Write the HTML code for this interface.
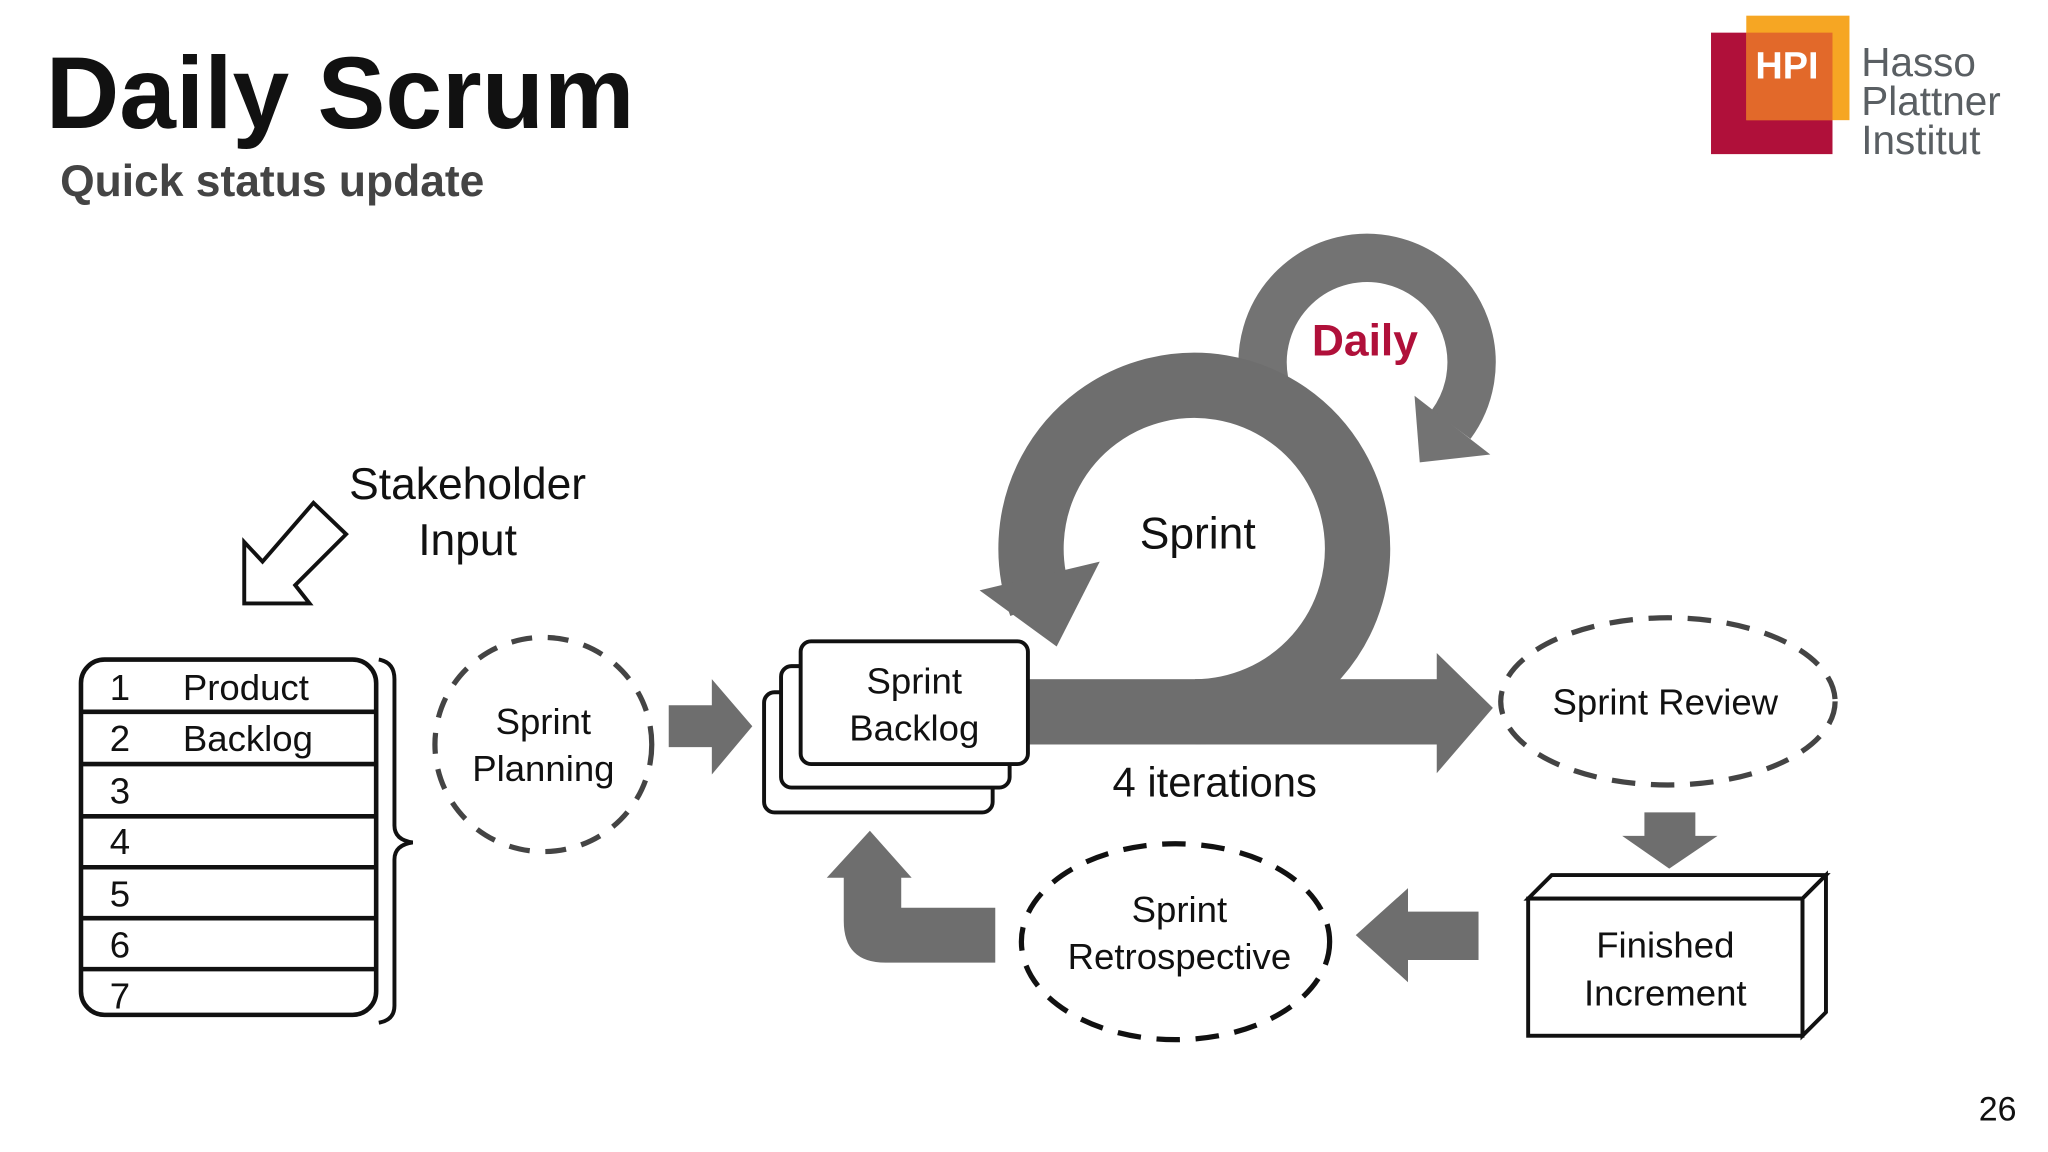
<!DOCTYPE html>
<html><head><meta charset="utf-8"><style>
html,body{margin:0;padding:0;background:#fff;}
svg{display:block;}
text{font-family:"Liberation Sans",sans-serif;}
</style></head><body>
<svg width="2048" height="1152" viewBox="0 0 1568 882" xmlns="http://www.w3.org/2000/svg">
<rect width="1568" height="882" fill="#fff"/>
<!-- Title -->
<text x="35" y="98" font-size="78" font-weight="bold" fill="#111">Daily Scrum</text>
<text x="46" y="150" font-size="34" font-weight="bold" fill="#444">Quick status update</text>
<!-- Logo -->
<rect x="1310" y="25" width="93" height="93" fill="#b0103a"/>
<rect x="1337" y="12" width="79" height="80" fill="#f6a623"/>
<rect x="1337" y="25" width="66" height="67" fill="#e2692a"/>
<text x="1344" y="60" font-size="29" font-weight="bold" fill="#fff">HPI</text>
<text x="1425" y="58" font-size="31" fill="#5a5f63">Hasso</text>
<text x="1425" y="88" font-size="31" fill="#5a5f63">Plattner</text>
<text x="1425" y="118" font-size="31" fill="#5a5f63">Institut</text>
<text x="1515" y="858" font-size="26" fill="#111">26</text>

<!-- Stakeholder -->
<text x="358" y="382" font-size="34" text-anchor="middle" fill="#111">Stakeholder</text>
<text x="358" y="425" font-size="34" text-anchor="middle" fill="#111">Input</text>
<polygon points="187,462 237,462 226,448 265,409 240,385 201,430 187,415" fill="#fff" stroke="#111" stroke-width="3" stroke-linejoin="miter"/>

<!-- Backlog table -->
<rect x="62" y="505" width="226" height="272" rx="18" fill="#fff" stroke="#111" stroke-width="3.5"/>
<g stroke="#111" stroke-width="3.5">
<line x1="62" y1="545" x2="288" y2="545"/><line x1="62" y1="585" x2="288" y2="585"/>
<line x1="62" y1="625" x2="288" y2="625"/><line x1="62" y1="664" x2="288" y2="664"/>
<line x1="62" y1="703" x2="288" y2="703"/><line x1="62" y1="742" x2="288" y2="742"/>
</g>
<g font-size="28" fill="#111">
<text x="84" y="536">1</text><text x="140" y="536">Product</text>
<text x="84" y="575">2</text><text x="140" y="575">Backlog</text>
<text x="84" y="615">3</text><text x="84" y="654">4</text><text x="84" y="694">5</text>
<text x="84" y="733">6</text><text x="84" y="772">7</text>
</g>
<path d="M290,505 Q302,507 302,520 L302,632 Q302,643 316,645 Q302,647 302,658 L302,770 Q302,781 290,783" fill="none" stroke="#111" stroke-width="3"/>

<!-- Sprint planning -->
<ellipse cx="416" cy="570" rx="83" ry="82" fill="none" stroke="#444" stroke-width="4" stroke-dasharray="16,12"/>
<text x="416" y="562" font-size="28" text-anchor="middle" fill="#111">Sprint</text>
<text x="416" y="598" font-size="28" text-anchor="middle" fill="#111">Planning</text>
<polygon points="512,540 545,540 545,520 576,556 545,593 545,572 512,572" fill="#6e6e6e"/>

<!-- Daily arc -->
<path d="M968,292 A80,80 0 1 1 1111,325" fill="none" stroke="#737373" stroke-width="37"/>
<polygon points="1083,303 1141,348 1087,354" fill="#737373"/>
<text x="1045" y="272" font-size="34" font-weight="bold" text-anchor="middle" fill="#b0103a">Daily</text>

<!-- Big sprint ring -->
<path d="M915,545 A125,125 0 1 0 797,463" fill="none" stroke="#6e6e6e" stroke-width="50"/>
<polygon points="750,452 842,430 809,495" fill="#6e6e6e"/>
<rect x="780" y="520" width="322" height="50" fill="#6e6e6e"/>
<polygon points="1100,500 1143,542 1100,592" fill="#6e6e6e"/>
<text x="917" y="420" font-size="34" text-anchor="middle" fill="#111">Sprint</text>
<text x="930" y="610" font-size="32" text-anchor="middle" fill="#111">4 iterations</text>

<!-- Sprint backlog cards -->
<rect x="585" y="530" width="175" height="92" rx="8" fill="#fff" stroke="#111" stroke-width="3"/>
<rect x="598" y="510" width="175" height="93" rx="8" fill="#fff" stroke="#111" stroke-width="3"/>
<rect x="613" y="491" width="174" height="94" rx="8" fill="#fff" stroke="#111" stroke-width="3"/>
<text x="700" y="531" font-size="28" text-anchor="middle" fill="#111">Sprint</text>
<text x="700" y="567" font-size="28" text-anchor="middle" fill="#111">Backlog</text>

<!-- Sprint review -->
<ellipse cx="1277" cy="537" rx="128" ry="64" fill="none" stroke="#444" stroke-width="4" stroke-dasharray="18,12"/>
<text x="1275" y="547" font-size="28" text-anchor="middle" fill="#111">Sprint Review</text>
<polygon points="1259,622 1298,622 1298,640 1315,640 1278,665 1242,640 1259,640" fill="#6e6e6e"/>

<!-- Finished increment -->
<polygon points="1170,688 1188,670 1398,670 1380,688" fill="#fff" stroke="#111" stroke-width="3"/>
<polygon points="1380,688 1398,670 1398,775 1380,793" fill="#fff" stroke="#111" stroke-width="3"/>
<rect x="1170" y="688" width="210" height="105" fill="#fff" stroke="#111" stroke-width="3"/>
<text x="1275" y="733" font-size="28" text-anchor="middle" fill="#111">Finished</text>
<text x="1275" y="770" font-size="28" text-anchor="middle" fill="#111">Increment</text>

<polygon points="1132,698 1078,698 1078,680 1038,716 1078,752 1078,735 1132,735" fill="#6e6e6e"/>

<!-- Retrospective -->
<ellipse cx="900" cy="721" rx="118" ry="75" fill="none" stroke="#111" stroke-width="4" stroke-dasharray="18,12"/>
<text x="903" y="706" font-size="28" text-anchor="middle" fill="#111">Sprint</text>
<text x="903" y="742" font-size="28" text-anchor="middle" fill="#111">Retrospective</text>

<path d="M762,695 L690,695 L690,672 L698,672 L666,636 L633,672 L646,672 L646,705 Q646,737 678,737 L762,737 Z" fill="#6e6e6e"/>
</svg>
</body></html>
